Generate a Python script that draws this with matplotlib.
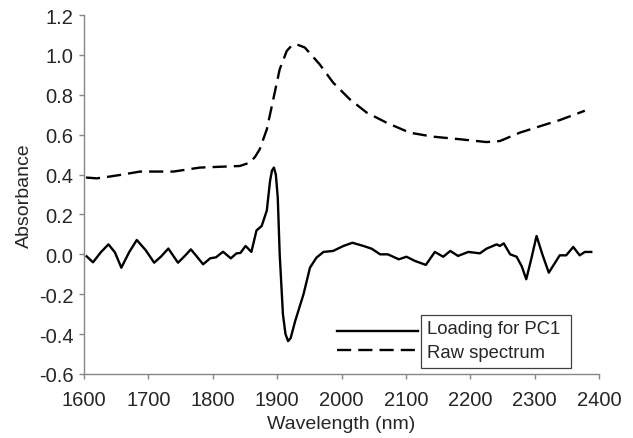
import matplotlib
matplotlib.use("Agg")
import matplotlib.pyplot as plt
from matplotlib.lines import Line2D
from matplotlib.patches import Rectangle

plt.rcParams['font.family'] = ['Liberation Sans', 'DejaVu Sans']
plt.rcParams['axes.unicode_minus'] = False

# Loading for PC1
loading_nm = [1604, 1614, 1626, 1638, 1648, 1658, 1670, 1682, 1696, 1709, 1720, 1731,
              1746, 1756, 1766, 1775, 1785, 1796, 1805, 1816, 1828, 1837, 1843, 1851,
              1860, 1868, 1876, 1884, 1889, 1892, 1895, 1898, 1901, 1904, 1909, 1913,
              1917, 1921, 1928, 1941, 1951, 1961, 1972, 1987, 2003, 2017, 2034, 2047,
              2060, 2072, 2089, 2101, 2114, 2131, 2145, 2158, 2169, 2181, 2197, 2215,
              2225, 2241, 2246, 2252, 2262, 2272, 2280, 2287, 2295, 2303, 2312, 2322,
              2339, 2349, 2360, 2370, 2378, 2388]
loading_val = [-0.01, -0.04, 0.01, 0.05, 0.01, -0.067, 0.01, 0.072, 0.02, -0.042, -0.01, 0.029,
               -0.042, -0.01, 0.025, -0.01, -0.05, -0.02, -0.015, 0.013, -0.02, 0.005, 0.007, 0.042,
               0.012, 0.12, 0.142, 0.22, 0.368, 0.42, 0.435, 0.40, 0.284, 0.0, -0.3, -0.40,
               -0.435, -0.42, -0.335, -0.2, -0.067, -0.017, 0.012, 0.017, 0.042, 0.058, 0.042, 0.028,
               0.0, 0.0, -0.025, -0.012, -0.033, -0.053, 0.012, -0.012, 0.017, -0.008, 0.012, 0.005,
               0.028, 0.05, 0.042, 0.055, 0.0, -0.012, -0.06, -0.125, -0.02, 0.092, 0.0, -0.092,
               -0.005, -0.005, 0.037, -0.005, 0.012, 0.012]

# Raw spectrum
raw_nm = [1603, 1620, 1640, 1656, 1687, 1739, 1780, 1842, 1858, 1866, 1873, 1884, 1894,
          1904, 1915, 1922, 1930, 1943, 1966, 1987, 2013, 2039, 2070, 2106, 2142, 2184,
          2225, 2246, 2277, 2313, 2339, 2378]
raw_val = [0.385, 0.381, 0.39, 0.398, 0.415, 0.415, 0.435, 0.443, 0.46, 0.49, 0.527, 0.627, 0.777,
           0.928, 1.02, 1.045, 1.053, 1.037, 0.953, 0.861, 0.777, 0.711, 0.66, 0.61, 0.59, 0.577,
           0.563, 0.568, 0.61, 0.647, 0.673, 0.72]

x_ticks = [1600, 1700, 1800, 1900, 2000, 2100, 2200, 2300, 2400]
y_ticks = [-0.6, -0.4, -0.2, 0.0, 0.2, 0.4, 0.6, 0.8, 1.0, 1.2]
labels = ["Loading for PC1", "Raw spectrum"]

spine_col = '#868686'
text_col = '#262626'

fig = plt.figure(figsize=(6.33, 4.39), dpi=100)
ax = fig.add_axes([84/633, 1-375/439, (599-84)/633, (375-16)/439])

ax.plot(loading_nm, loading_val, color='black', lw=1.7, solid_joinstyle='round')
ax.plot(raw_nm, raw_val, color='black', lw=1.7, dashes=(6, 3))

ax.set_xlim(1600, 2400)
ax.set_ylim(-0.6, 1.2)
ax.set_xticks(x_ticks)
ax.set_yticks(y_ticks)
ax.set_yticklabels([f"{v:.1f}" for v in y_ticks])
for s in ['top', 'right']:
    ax.spines[s].set_visible(False)
for s in ['left', 'bottom']:
    ax.spines[s].set_color(spine_col)
    ax.spines[s].set_linewidth(1.0)
ax.tick_params(axis='both', direction='out', length=3.6, width=1.0, color=spine_col,
               labelsize=14.5, labelcolor=text_col)
ax.tick_params(axis='x', pad=8)
ax.tick_params(axis='y', pad=4)
ax.set_xlabel("Wavelength (nm)", fontsize=14, color=text_col, labelpad=4)
ax.set_ylabel("Absorbance", fontsize=14, color=text_col, labelpad=4)

# Legend (handles outside the frame, as in the reference)
tf = fig.transFigure
fig.add_artist(Line2D([337/633, 418/633], [1-331.7/439]*2, transform=tf, color='black', lw=1.7))
fig.add_artist(Line2D([337/633, 418/633], [1-350.7/439]*2, transform=tf, color='black', lw=1.7,
                      dashes=(6, 3)))
fig.add_artist(Rectangle((420.7/633, 1-369.3/439), (570.7-420.7)/633, (369.3-316)/439,
                         transform=tf, fill=False, edgecolor='#404040', lw=0.9))
fig.text(427/633, 1-330/439, labels[0], fontsize=13.3, color=text_col, va='center', ha='left')
fig.text(427/633, 1-354/439, labels[1], fontsize=13.3, color=text_col, va='center', ha='left')

fig.savefig("out.png", dpi=100)
